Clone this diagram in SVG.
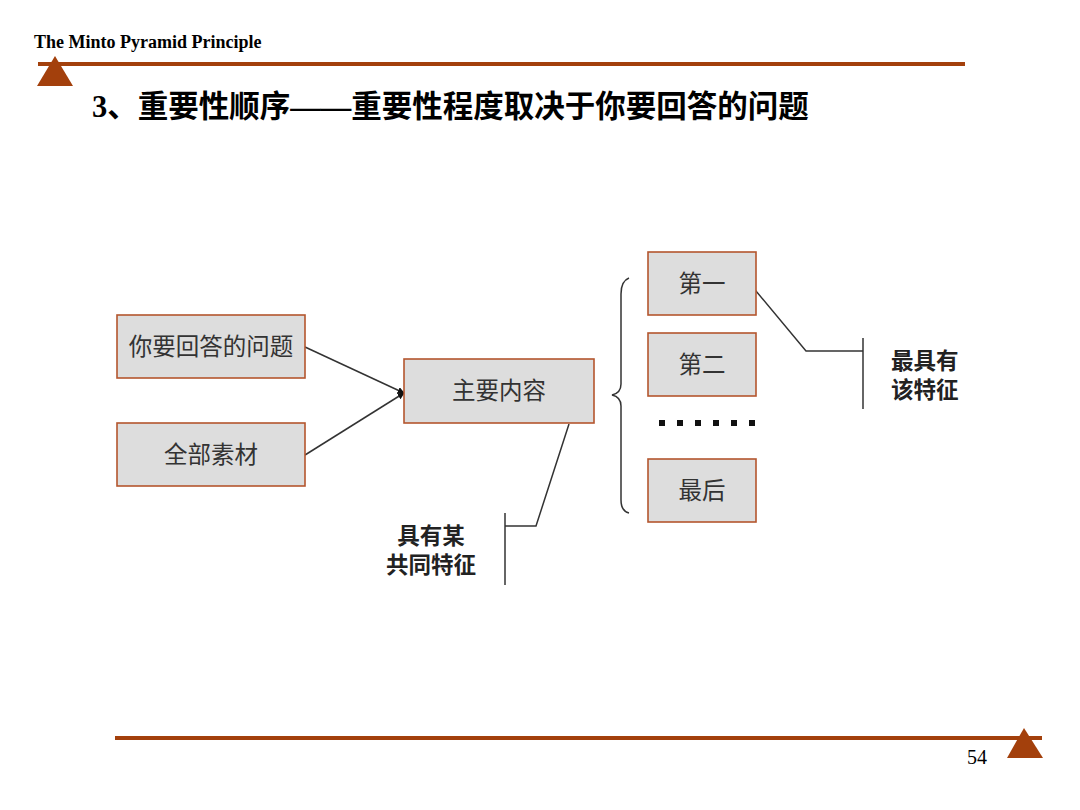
<svg xmlns="http://www.w3.org/2000/svg" width="1080" height="810" viewBox="0 0 1080 810">
<style>
.box{fill:#DDDDDD;stroke:#B4562E;stroke-width:1.6}
.bt{font-family:"Noto Sans CJK SC","Noto Sans",sans-serif;font-size:23.5px;fill:#333;text-anchor:middle}
.lb{font-family:"Noto Sans CJK SC","Noto Sans",sans-serif;font-size:22.5px;font-weight:bold;fill:#222}
.ln{fill:none;stroke:#333;stroke-width:1.5}
.acc{fill:#A3400C}
</style>
<defs>
<marker id="ah" viewBox="0 0 10 10" refX="9" refY="5" markerWidth="7" markerHeight="7" orient="auto" markerUnits="userSpaceOnUse">
<path d="M0,0 L10,5 L0,10 z" fill="#111"/>
</marker>
</defs>
<rect width="1080" height="810" fill="#fff"/>
<g id="header">
<text x="34" y="48" font-family="Liberation Serif,serif" font-weight="bold" font-size="18" fill="#000">The Minto Pyramid Principle</text>
<rect x="38" y="62" width="927" height="4" class="acc"/>
<polygon points="55,56 37,86 73,86" class="acc"/>
<text x="92" y="117" font-family="Liberation Serif,'Noto Sans CJK SC',serif" font-weight="bold" font-size="30.5" fill="#000">3、重要性顺序——重要性程度取决于你要回答的问题</text>
</g>
<g id="footer">
<rect x="115" y="736" width="927" height="4" class="acc"/>
<polygon points="1024,728 1007,758 1043,758" class="acc"/>
<text x="977" y="764" font-family="Liberation Serif,serif" font-size="20" fill="#000" text-anchor="middle">54</text>
</g>
<g id="connectors">
<line x1="305" y1="347" x2="404" y2="393" class="ln" marker-end="url(#ah)"/>
<line x1="305" y1="455" x2="404" y2="393" class="ln" marker-end="url(#ah)"/>
<polyline points="569,424 536,526 505,526" class="ln"/>
<line x1="505" y1="513" x2="505" y2="585" class="ln"/>
<polyline points="746,279 806,351 863,351" class="ln"/>
<line x1="863" y1="338" x2="863" y2="409" class="ln"/>
<path d="M629,278 Q621,281 621,294 L621,384 Q621,393 612,395 Q621,397 621,406 L621,500 Q621,511 629,513" class="ln"/>
</g>
<g id="n-question"><rect x="117" y="315" width="188" height="63" class="box"/><text x="211" y="355" class="bt">你要回答的问题</text></g>
<g id="n-material"><rect x="117" y="423" width="188" height="63" class="box"/><text x="211" y="463" class="bt">全部素材</text></g>
<g id="n-main"><rect x="404" y="359" width="190" height="64" class="box"/><text x="499" y="399" class="bt">主要内容</text></g>
<g id="n-first"><rect x="648" y="252" width="108" height="63" class="box"/><text x="702" y="292" class="bt">第一</text></g>
<g id="n-second"><rect x="648" y="333" width="108" height="63" class="box"/><text x="702" y="373" class="bt">第二</text></g>
<g id="n-dots" fill="#111">
<rect x="659" y="420" width="6" height="6"/><rect x="677" y="420" width="6" height="6"/><rect x="695" y="420" width="6" height="6"/><rect x="713" y="420" width="6" height="6"/><rect x="731" y="420" width="6" height="6"/><rect x="749" y="420" width="6" height="6"/>
</g>
<g id="n-last"><rect x="648" y="459" width="108" height="63" class="box"/><text x="702" y="499" class="bt">最后</text></g>
<g id="l-common"><text x="431" y="544" class="lb" text-anchor="middle">具有某</text><text x="431" y="573" class="lb" text-anchor="middle">共同特征</text></g>
<g id="l-most"><text x="891" y="369" class="lb">最具有</text><text x="891" y="398" class="lb">该特征</text></g>
</svg>
